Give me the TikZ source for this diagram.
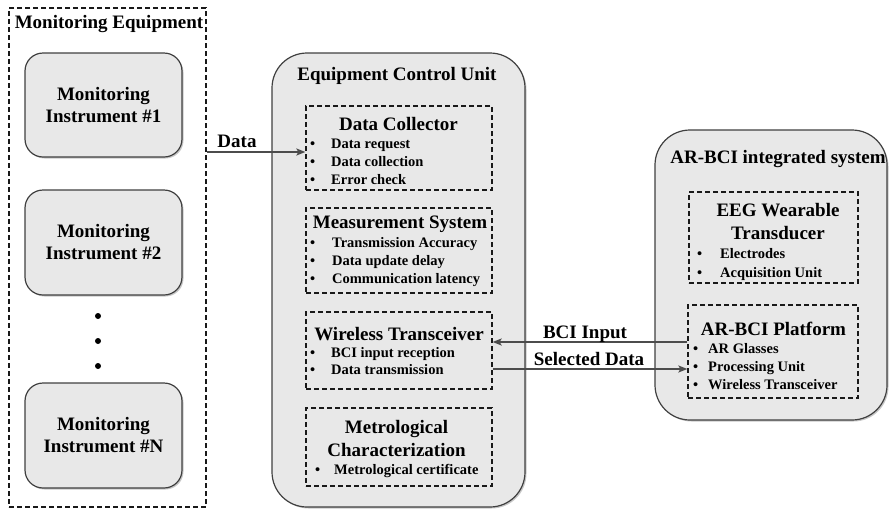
\documentclass[tikz,border=0pt]{standalone}
\usepackage{fontspec}
\setmainfont{Liberation Serif}
\usetikzlibrary{shadows,arrows.meta}
\newcommand{\hdfont}{\fontsize{19}{22}\selectfont\bfseries}
\newcommand{\itfont}{\fontsize{14.5}{18}\selectfont\bfseries}
\newcommand{\bitem}[2]{\makebox[#1][l]{\textbullet}#2}
\begin{document}
\begin{tikzpicture}[x=1pt,y=-1pt,
  rbox/.style={draw=black!75, line width=1.2pt, fill=black!9, rounded corners=#1,
     drop shadow={shadow xshift=1.5pt, shadow yshift=-1.5pt, opacity=0.4, fill=black!55}},
  rbox/.default=18pt,
  dbox/.style={draw=black!90, line width=1.3pt, dash pattern=on 5pt off 3pt},
  sz/.style 2 args={minimum width=#1pt, minimum height=#2pt, inner sep=0pt},
  hd/.style={font=\hdfont, inner sep=0pt, anchor=base},
  itm/.style={font=\itfont, inner sep=0pt, anchor=base west},
  arr/.style={draw=black!70, line width=1.6pt, -{Stealth[length=9pt,width=7pt,inset=2pt]}},
  dotn/.style={circle, fill=black, inner sep=0pt, minimum size=6pt}
]
\useasboundingbox (0,0) rectangle (890,509);

% Monitoring equipment
\node[dbox, sz={197}{499}] (me) at (107.5,257.5) {};
\node[hd] (metitle) at (109,28) {Monitoring Equipment};
\node[rbox, sz={157}{104}, font=\hdfont, align=center] (i1) at (103.5,105) {Monitoring\\Instrument \#1};
\node[rbox, sz={157}{105}, font=\hdfont, align=center] (i2) at (103.5,242.5) {Monitoring\\Instrument \#2};
\node[rbox, sz={157}{105}, font=\hdfont, align=center] (iN) at (103.5,435.5) {Monitoring\\Instrument \#N};
\node[dotn] (d1) at (98,316) {};
\node[dotn] (d2) at (98,341) {};
\node[dotn] (d3) at (98,366) {};

% Equipment control unit
\node[rbox=35pt, sz={253}{454}] (ecu) at (398.5,280) {};
\node[hd] (ecut) at (397,80) {Equipment Control Unit};

\node[dbox, sz={186}{84}] (dc) at (399,148) {};
\node[hd] (dct) at (398.5,130) {Data Collector};
\node[itm] (dc1) at (310,148) {\bitem{21pt}{Data request}};
\node[itm] (dc2) at (310,166) {\bitem{21pt}{Data collection}};
\node[itm] (dc3) at (310,184) {\bitem{21pt}{Error check}};

\node[dbox, sz={186}{85}] (ms) at (399,250.5) {};
\node[hd] (mst) at (400,228) {Measurement System};
\node[itm] (ms1) at (310,247) {\bitem{22pt}{Transmission Accuracy}};
\node[itm] (ms2) at (310,265) {\bitem{22pt}{Data update delay}};
\node[itm] (ms3) at (310,283) {\bitem{22pt}{Communication latency}};

\node[dbox, sz={186}{77}] (wt) at (399,350.5) {};
\node[hd] (wtt) at (399,340) {Wireless Transceiver};
\node[itm] (wt1) at (310,357) {\bitem{21pt}{BCI input reception}};
\node[itm] (wt2) at (310,374) {\bitem{21pt}{Data transmission}};

\node[dbox, sz={186}{78}] (mc) at (399,447) {};
\node[hd] (mct1) at (396.5,433) {Metrological};
\node[hd] (mct2) at (396.5,456) {Characterization};
\node[itm] (mc1) at (315,474) {\bitem{19pt}{Metrological certificate}};

% AR-BCI integrated system
\node[rbox=35pt, sz={232}{290}] (ar) at (771,275) {};
\node[hd] (art) at (778,163) {AR-BCI integrated system};

\node[dbox, sz={169}{91}] (eeg) at (773.5,237.5) {};
\node[hd] (eegt1) at (778,216) {EEG Wearable};
\node[hd] (eegt2) at (778,239) {Transducer};
\node[itm] (eeg1) at (697,258) {\bitem{23pt}{Electrodes}};
\node[itm] (eeg2) at (697,277) {\bitem{23pt}{Acquisition Unit}};

\node[dbox, sz={170}{93}] (plat) at (773,351.5) {};
\node[hd] (platt) at (773.5,335) {AR-BCI Platform};
\node[itm] (pl1) at (693,353) {\bitem{15pt}{AR Glasses}};
\node[itm] (pl2) at (693,371) {\bitem{15pt}{Processing Unit}};
\node[itm] (pl3) at (693,389) {\bitem{15pt}{Wireless Transceiver}};

% connectors
\draw[arr] ([yshift=-4pt]dc.west -| me.east) -- ([yshift=-4pt]dc.west);
\node[hd] (datal) at (237,147) {Data};
\draw[arr] ([yshift=9.5pt]plat.west) -- ([yshift=9.5pt]plat.west -| wt.east);
\node[hd] (bcil) at (585,338) {BCI Input};
\draw[arr] ([yshift=-18.5pt]wt.east) -- ([yshift=-18.5pt]wt.east -| plat.west);
\node[hd] (sell) at (589,365) {Selected Data};
\end{tikzpicture}
\end{document}
